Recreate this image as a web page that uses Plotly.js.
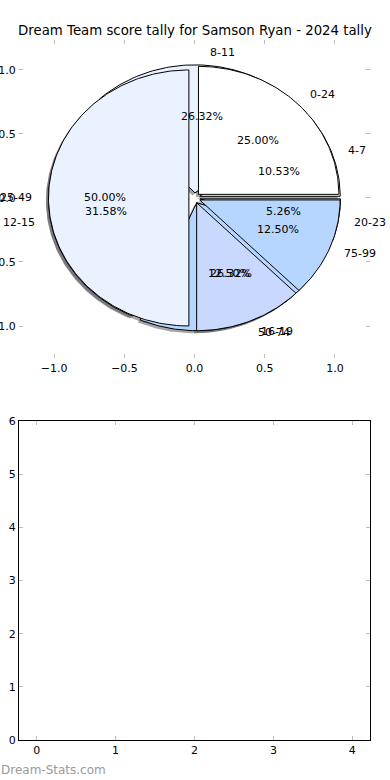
<!DOCTYPE html>
<html><head><meta charset="utf-8">
<script src="https://cdn.plot.ly/plotly-3.0.1.min.js"></script>
<style>html,body{margin:0;padding:0;background:#fff}</style>
</head><body><div id="chart" style="width:390px;height:780px"></div>
<script>
const titleText = "Dream Team score tally for Samson Ryan - 2024 tally";
const watermark = "Dream-Stats.com";

// Pie A: score ranges
const rangeLabels = ["0-24", "25-49", "50-74", "75-99"];
const rangeValues = [2, 4, 1, 1];
const rangeColors = ["#ffffff", "#ebf2ff", "#c8d8ff", "#b6d6ff"];

// Pie B: score bands
const bandLabels = ["4-7", "8-11", "12-15", "16-19", "20-23"];
const bandValues = [2, 5, 6, 5, 1];
const bandColors = ["#ffffff", "#ebf2ff", "#c8d8ff", "#b6d6ff", "#ffffff"];
const zeroBandLabel = "0-3";

const topXTicks = [-1, -0.5, 0, 0.5, 1];
const topXTickText = ["\u22121.0", "\u22120.5", "0.0", "0.5", "1.0"];
const topYTicks = [-1, -0.5, 0, 0.5, 1];
const topYTickText = ["\u22121.0", "\u22120.5", "0.0", "0.5", "1.0"];
const botXTicks = [0, 1, 2, 3, 4];
const botYTicks = [0, 1, 2, 3, 4, 5, 6];

const EXPLODE = 0.04;
const SHADOW_DX = -0.018, SHADOW_DY = -0.02;
const FONT = "DejaVu Sans, Liberation Sans, sans-serif";
const TXT = 11;

const shadowTraces = [], wedgeTraces = [], annotations = [];

function buildPie(labels, values, colors) {
  const total = values.reduce((a, b) => a + b, 0);
  let start = 0;
  values.forEach((v, i) => {
    const frac = v / total;
    const t1 = start * 360, t2 = (start + frac) * 360;
    start += frac;
    const tm = (t1 + t2) / 2 * Math.PI / 180;
    const cx = EXPLODE * Math.cos(tm), cy = EXPLODE * Math.sin(tm);
    const xs = [cx], ys = [cy];
    const n = Math.max(4, Math.ceil((t2 - t1) / 1));
    for (let k = 0; k <= n; k++) {
      const a = (t1 + (t2 - t1) * k / n) * Math.PI / 180;
      xs.push(cx + Math.cos(a)); ys.push(cy + Math.sin(a));
    }
    xs.push(cx); ys.push(cy);
    shadowTraces.push({
      type: "scatter", mode: "lines", x: xs.map(x => x + SHADOW_DX), y: ys.map(y => y + SHADOW_DY),
      fill: "toself", fillcolor: "rgba(77,77,77,0.5)", line: {width: 0, color: "rgba(0,0,0,0)"},
      hoverinfo: "skip", showlegend: false, xaxis: "x", yaxis: "y"
    });
    wedgeTraces.push({
      type: "scatter", mode: "lines", x: xs, y: ys,
      fill: "toself", fillcolor: colors[i], line: {width: 1, color: "#000000"},
      hoverinfo: "skip", showlegend: false, xaxis: "x", yaxis: "y"
    });
    const lx = cx + 1.1 * Math.cos(tm), ly = cy + 1.1 * Math.sin(tm);
    annotations.push({
      xref: "x", yref: "y", x: lx, y: ly, text: labels[i], showarrow: false,
      xanchor: lx > 0 ? "left" : "right", yanchor: "middle",
      font: {family: FONT, size: TXT, color: "#000"}
    });
    const px = cx + 0.6 * Math.cos(tm), py = cy + 0.6 * Math.sin(tm);
    annotations.push({
      xref: "x", yref: "y", x: px, y: py, text: (frac * 100).toFixed(2) + "%", showarrow: false,
      xanchor: "center", yanchor: "middle",
      font: {family: FONT, size: TXT, color: "#000"}
    });
  });
}

buildPie(bandLabels, bandValues, bandColors);
buildPie(rangeLabels, rangeValues, rangeColors);

annotations.push({
  xref: "x", yref: "y", x: -1.27, y: 0, text: zeroBandLabel, showarrow: false,
  xanchor: "right", yanchor: "middle", font: {family: FONT, size: TXT, color: "#000"}
});
annotations.push({
  xref: "paper", yref: "paper", x: -0.002, y: 10 / 780, text: watermark, showarrow: false,
  xanchor: "left", yanchor: "middle", font: {family: FONT, size: 12, color: "#9a9a9a"}
});

const emptyTrace = {type: "scatter", mode: "markers", x: [], y: [], xaxis: "x2", yaxis: "y2",
  showlegend: false, hoverinfo: "skip"};

const tickCommon = {ticks: "inside", ticklen: 4, tickwidth: 1, tickcolor: "#bdbdbd",
  showgrid: false, zeroline: false, automargin: false,
  tickfont: {family: FONT, size: TXT, color: "#000"}};

const layout = {
  width: 390, height: 780,
  margin: {l: 0, r: 0, t: 0, b: 0},
  paper_bgcolor: "#ffffff", plot_bgcolor: "rgba(0,0,0,0)",
  showlegend: false,
  title: {text: titleText, x: 0.5, xanchor: "center", y: 1 - 30 / 780, yanchor: "middle",
    font: {family: FONT, size: 13.3, color: "#000"}},
  xaxis: Object.assign({}, tickCommon, {
    domain: [19 / 390, 370 / 390], range: [-1.25, 1.25], tickvals: topXTicks, ticktext: topXTickText,
    showline: true, linecolor: "#ffffff", linewidth: 1, mirror: "allticks", anchor: "y", fixedrange: true
  }),
  yaxis: Object.assign({}, tickCommon, {
    domain: [1 - 358 / 780, 1 - 40 / 780], range: [-1.25, 1.234], tickvals: topYTicks, ticktext: topYTickText,
    showline: true, linecolor: "#ffffff", linewidth: 1, mirror: "allticks", anchor: "x", fixedrange: true
  }),
  xaxis2: Object.assign({}, tickCommon, {
    domain: [19 / 390, 370 / 390], range: [-0.225, 4.225], tickvals: botXTicks,
    showline: true, linecolor: "#000000", linewidth: 1, mirror: "allticks", anchor: "y2", fixedrange: true
  }),
  yaxis2: Object.assign({}, tickCommon, {
    domain: [1 - 740 / 780, 1 - 421 / 780], range: [0, 6], tickvals: botYTicks,
    showline: true, linecolor: "#000000", linewidth: 1, mirror: "allticks", anchor: "x2", fixedrange: true
  }),
  annotations: annotations
};

Plotly.newPlot("chart", shadowTraces.concat(wedgeTraces, [emptyTrace]), layout,
  {displayModeBar: false, staticPlot: true});
</script></body></html>
